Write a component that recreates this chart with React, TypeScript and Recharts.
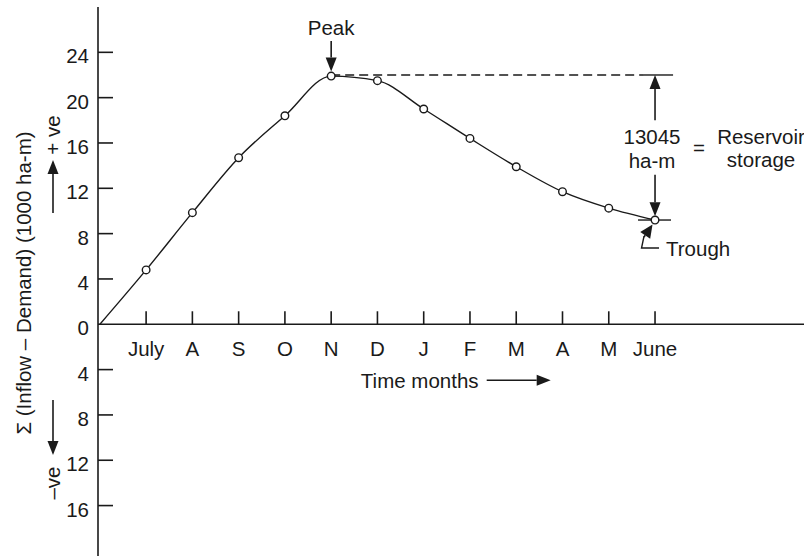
import React from 'react';
import {
  ComposedChart,
  Line,
  XAxis,
  YAxis,
  ReferenceLine,
  ReferenceDot,
} from 'recharts';

// mass curve: cumulative (inflow - demand), 1000 ha-m, month 0 = start of July
const MONTHS = ['July', 'A', 'S', 'O', 'N', 'D', 'J', 'F', 'M', 'A', 'M', 'June'];
const CUMULATIVE = [0, 4.8, 9.85, 14.7, 18.4, 21.9, 21.5, 19.0, 16.4, 13.9, 11.7, 10.25, 9.2];
const Y_TICKS = [-16, -12, -8, -4, 0, 4, 8, 12, 16, 20, 24];
const PEAK_LEVEL = 22.0;
const STORAGE_TEXT = ['13045', 'ha-m'];
const RESERVOIR_TEXT = ['Reservoir', 'storage'];

const PEAK_INDEX = 5;
const TROUGH_INDEX = 12;

const data = CUMULATIVE.map((v, i) => ({ t: i, v }));

const FONT = 'Liberation Sans, Arial, Helvetica, sans-serif';
const INK = '#1a1a1a';
const FS = 20.5;

const Arrow = ({ x1, y1, x2, y2, head = 14, hw = 5.5 }: any) => {
  // line from (x1,y1) to (x2,y2), filled head at (x2,y2)
  const len = Math.hypot(x2 - x1, y2 - y1) || 1;
  const ux = (x2 - x1) / len;
  const uy = (y2 - y1) / len;
  const bx = x2 - ux * head;
  const by = y2 - uy * head;
  return (
    <g>
      <line x1={x1} y1={y1} x2={bx} y2={by} stroke={INK} strokeWidth={1.6} />
      <polygon
        points={`${x2},${y2} ${bx - uy * hw},${by + ux * hw} ${bx + uy * hw},${by - ux * hw}`}
        fill={INK}
      />
    </g>
  );
};

const YTick = ({ x, y, payload }: any) => (
  <g>
    {payload.value !== 0 && (
      <line x1={x} y1={y} x2={x + 15} y2={y} stroke={INK} strokeWidth={1.6} />
    )}
    <text x={x - 9} y={y} dy={11} textAnchor="end" fontFamily={FONT} fontSize={FS} fill={INK}>
      {Math.abs(payload.value)}
    </text>
  </g>
);

const monthTick = (label: string) => ({ cx, cy }: any) => (
  <g>
    <line x1={cx} y1={cy} x2={cx} y2={cy - 13} stroke={INK} strokeWidth={1.6} />
    <text x={cx} y={cy + 32} textAnchor="middle" fontFamily={FONT} fontSize={FS} fill={INK}>
      {label}
    </text>
  </g>
);

const TimeLabel = ({ cx, cy }: any) => (
  <g>
    <text x={cx - 4} y={cy + 64} textAnchor="middle" fontFamily={FONT} fontSize={FS} fill={INK}>
      Time months
    </text>
    <Arrow x1={cx + 63} y1={cy + 56} x2={cx + 127} y2={cy + 56} />
  </g>
);

const PeakMark = ({ cx, cy }: any) => (
  <g>
    <text x={cx} y={cy - 41} textAnchor="middle" fontFamily={FONT} fontSize={FS} fill={INK}>
      Peak
    </text>
    <Arrow x1={cx} y1={cy - 35} x2={cx} y2={cy - 4.5} />
  </g>
);

const StorageNote = ({ cx, cy }: any) => (
  <g fontFamily={FONT} fontSize={FS} fill={INK}>
    <text x={cx - 3} y={cy + 69} textAnchor="middle">{STORAGE_TEXT[0]}</text>
    <text x={cx - 3} y={cy + 93} textAnchor="middle">{STORAGE_TEXT[1]}</text>
    <text x={cx + 44} y={cy + 80} textAnchor="middle">=</text>
    <text x={cx + 106} y={cy + 69} textAnchor="middle">{RESERVOIR_TEXT[0]}</text>
    <text x={cx + 106} y={cy + 92} textAnchor="middle">{RESERVOIR_TEXT[1]}</text>
  </g>
);

const TroughMark = ({ cx, cy }: any) => (
  <g>
    <line x1={cx - 17} y1={cy} x2={cx - 4} y2={cy} stroke={INK} strokeWidth={1.4} />
    <line x1={cx + 4} y1={cy} x2={cx + 16} y2={cy} stroke={INK} strokeWidth={1.4} />
    <Arrow x1={cx - 11} y1={cy + 17} x2={cx - 2.5} y2={cy + 4.5} head={13} hw={6} />
    <polyline
      points={`${cx - 11},${cy + 16} ${cx - 13.5},${cy + 28} ${cx + 4},${cy + 28}`}
      fill="none"
      stroke={INK}
      strokeWidth={1.4}
    />
    <text x={cx + 11} y={cy + 36} fontFamily={FONT} fontSize={FS} fill={INK}>
      Trough
    </text>
  </g>
);

const OpenDot = ({ cx, cy, index }: any) =>
  index === 0 ? (
    <g key={`d-${index}`} />
  ) : (
    <circle key={`d-${index}`} cx={cx} cy={cy} r={3.8} fill="#fff" stroke={INK} strokeWidth={1.4} />
  );

const SideLabels = () => (
  <g fontFamily={FONT} fontSize={FS} fill={INK}>
    <text x={24} y={283} transform="rotate(-90 24 283)" textAnchor="middle" dy={7}>
      Σ (Inflow – Demand) (1000 ha-m)
    </text>
    <text x={53} y={135} transform="rotate(-90 53 135)" textAnchor="middle" dy={7}>
      + ve
    </text>
    <text x={53} y={483} transform="rotate(-90 53 483)" textAnchor="middle" dy={7}>
      –ve
    </text>
    <Arrow x1={53} y1={213} x2={53} y2={160} />
    <Arrow x1={53} y1={400} x2={53} y2={455} />
  </g>
);

export default function App() {
  const trough = CUMULATIVE[TROUGH_INDEX];
  return (
    <div style={{ position: 'absolute', left: 0, top: 0, background: '#fff' }}>
      <ComposedChart
        width={804}
        height={556}
        data={data}
        margin={{ top: 7, right: 0, left: 0, bottom: 0 }}
      >
        <XAxis dataKey="t" type="number" domain={[-0.04, 15.22]} hide allowDataOverflow />
        <YAxis
          type="number"
          domain={[-20.45, 28]}
          ticks={Y_TICKS}
          width={98}
          tickSize={0}
          tickMargin={0}
          tick={<YTick />}
          axisLine={{ stroke: INK, strokeWidth: 1.6 }}
          tickLine={false}
          allowDataOverflow
        />
        <ReferenceLine y={0} stroke={INK} strokeWidth={1.6} />
        {MONTHS.map((m, i) => (
          <ReferenceDot key={`m-${i}`} x={i + 1} y={0} r={0} shape={monthTick(m)} />
        ))}
        <ReferenceDot x={7} y={0} r={0} shape={TimeLabel} />
        <ReferenceLine
          segment={[{ x: PEAK_INDEX, y: PEAK_LEVEL }, { x: 11.76, y: PEAK_LEVEL }]}
          stroke={INK}
          strokeWidth={1.4}
          strokeDasharray="9 5"
        />
        <ReferenceLine
          segment={[{ x: 11.76, y: PEAK_LEVEL }, { x: 12.39, y: PEAK_LEVEL }]}
          stroke={INK}
          strokeWidth={1.4}
        />
        <ReferenceLine
          segment={[{ x: TROUGH_INDEX, y: 18.0 }, { x: TROUGH_INDEX, y: PEAK_LEVEL }]}
          shape={Arrow}
        />
        <ReferenceLine
          segment={[{ x: TROUGH_INDEX, y: 13.2 }, { x: TROUGH_INDEX, y: trough + 0.33 }]}
          shape={Arrow}
        />
        <ReferenceDot x={TROUGH_INDEX} y={PEAK_LEVEL} r={0} shape={StorageNote} />
        <ReferenceDot x={PEAK_INDEX} y={CUMULATIVE[PEAK_INDEX]} r={0} shape={PeakMark} />
        <ReferenceDot x={TROUGH_INDEX} y={trough} r={0} shape={TroughMark} />
        <Line
          type="monotone"
          dataKey="v"
          stroke={INK}
          strokeWidth={1.4}
          dot={OpenDot}
          activeDot={false}
          isAnimationActive={false}
        />
        <SideLabels />
      </ComposedChart>
    </div>
  );
}
